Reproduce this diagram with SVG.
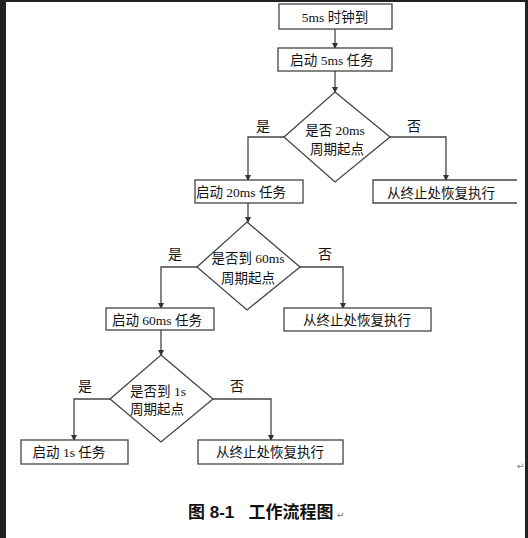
<svg xmlns="http://www.w3.org/2000/svg" width="528" height="538" viewBox="0 0 528 538">
<style>
.box{fill:#fff;stroke:#444;stroke-width:1.3}
.ln{fill:none;stroke:#444;stroke-width:1.3}
.arr{fill:none;stroke:#444;stroke-width:1.3;marker-end:url(#ah)}
.t{font-family:"Liberation Serif","Noto Sans CJK SC",serif;font-size:13.5px;fill:#111;text-anchor:middle}
.cap{font-family:"Liberation Sans","Noto Sans CJK SC",sans-serif;font-size:17px;font-weight:bold;fill:#111}
.pm{font-family:"DejaVu Sans",sans-serif;font-size:9px;fill:#777}
</style>
<defs>
<marker id="ah" markerWidth="6" markerHeight="8" refX="5" refY="4" orient="auto" markerUnits="userSpaceOnUse">
<path d="M0,1 L6,4 L0,7 Z" fill="#333"/>
</marker>
</defs>
<rect x="0" y="0" width="528" height="538" fill="#fff"/>
<rect x="0" y="0" width="6" height="538" fill="#222"/>
<rect x="0" y="0" width="528" height="2" fill="#222"/>
<rect x="525" y="0" width="3" height="538" fill="#222"/>

<g id="connectors">
<line class="arr" x1="335" y1="29" x2="335" y2="48"/>
<line class="arr" x1="335" y1="71" x2="335" y2="92"/>
<polyline class="arr" points="284,137 248,137 248,180"/>
<polyline class="arr" points="390,137 446,137 446,180"/>
<line class="arr" x1="248" y1="203" x2="248" y2="222"/>
<polyline class="arr" points="197,267 161,267 161,308"/>
<polyline class="arr" points="300,267 343,267 343,308"/>
<line class="arr" x1="161" y1="330" x2="161" y2="355"/>
<polyline class="arr" points="110,399 74,399 74,440"/>
<polyline class="arr" points="213,399 271,399 271,440"/>
<text class="t" x="263" y="131" style="font-size:14px">是</text>
<text class="t" x="414" y="131" style="font-size:14px">否</text>
<text class="t" x="175" y="259" style="font-size:14px">是</text>
<text class="t" x="325" y="259" style="font-size:14px">否</text>
<text class="t" x="85" y="391" style="font-size:14px">是</text>
<text class="t" x="237" y="391" style="font-size:14px">否</text>
</g>

<g id="n1"><rect class="box" x="279" y="4" width="113" height="25"/><text class="t" x="335" y="22">5ms 时钟到</text></g>
<g id="n2"><rect class="box" x="278" y="48" width="114" height="23"/><text class="t" x="332" y="65">启动 5ms 任务</text></g>
<g id="d1"><polygon class="box" points="335,92 390,137 335,182 284,137"/><text class="t" x="335" y="135">是否 20ms</text><text class="t" x="337" y="154">周期起点</text></g>
<g id="n3"><rect class="box" x="195" y="180" width="108" height="23"/><text class="t" x="241" y="197">启动 20ms 任务</text></g>
<g id="n4"><path class="box" d="M517,180 L373,180 L373,203 L517,203"/><text class="t" x="441" y="198">从终止处恢复执行</text></g>
<g id="d2"><polygon class="box" points="247,222 300,267 247,310 197,267"/><text class="t" x="248" y="263">是否到 60ms</text><text class="t" x="248" y="283">周期起点</text></g>
<g id="n5"><rect class="box" x="106" y="308" width="108" height="22"/><text class="t" x="157" y="325">启动 60ms 任务</text></g>
<g id="n6"><rect class="box" x="284" y="308" width="147" height="23"/><text class="t" x="357" y="325">从终止处恢复执行</text></g>
<g id="d3"><polygon class="box" points="161,355 213,399 161,442 110,399"/><text class="t" x="158" y="396">是否到 1s</text><text class="t" x="157" y="414">周期起点</text></g>
<g id="n7"><rect class="box" x="21" y="440" width="107" height="24"/><text class="t" x="69" y="457">启动 1s 任务</text></g>
<g id="n8"><rect class="box" x="198" y="440" width="145" height="24"/><text class="t" x="270" y="457">从终止处恢复执行</text></g>

<text class="cap" x="188" y="518" xml:space="preserve">图 8-1   工作流程图</text>
<text class="pm" x="337" y="518">↵</text>
<text class="pm" x="517" y="469">↵</text>
</svg>
